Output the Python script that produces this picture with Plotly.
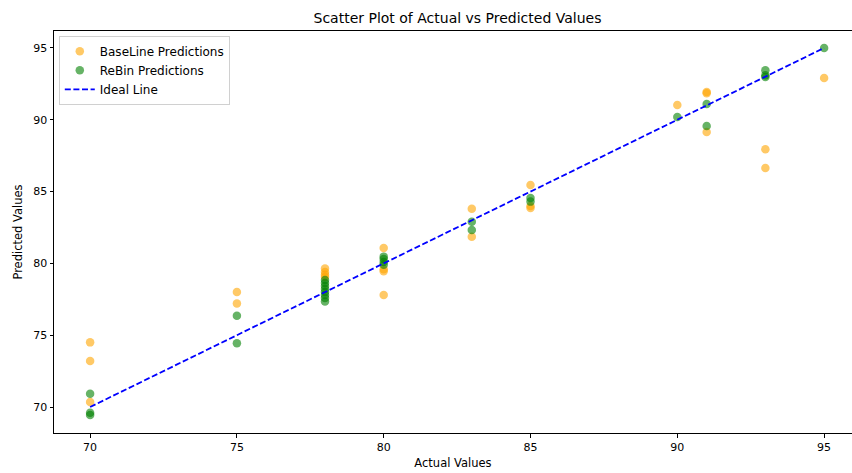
import plotly.graph_objects as go

# Actual target values and the two models' predictions
baseline_actual = [70, 70, 70, 75, 75, 78, 78, 78, 78, 80, 80, 80, 80, 83, 83,
                   85, 85, 85, 90, 91, 91, 91, 93, 93, 95]
baseline_pred = [74.5, 73.2, 70.35, 78.0, 77.2, 79.65, 79.4, 79.2, 79.05,
                 81.07, 79.6, 79.45, 77.8, 83.8, 81.85,
                 85.45, 84.0, 83.86, 91.03, 91.94, 91.85, 89.15, 87.95, 86.64, 92.9]

rebin_actual = [70, 70, 70, 75, 75, 78, 78, 78, 78, 78, 78, 78, 78,
                80, 80, 80, 80, 83, 83, 85, 85, 90, 91, 91, 93, 93, 93, 95]
rebin_pred = [70.93, 69.6, 69.44, 76.36, 74.44,
              78.84, 78.63, 78.43, 78.22, 78.0, 77.8, 77.59, 77.35,
              80.47, 80.3, 80.1, 79.9, 82.9, 82.33, 84.55, 84.3,
              90.2, 91.1, 89.57, 93.45, 93.1, 92.98, 95.0]

ideal_line = [70, 95]

fig = go.Figure()

fig.add_trace(go.Scatter(
    x=baseline_actual, y=baseline_pred, mode="markers",
    name="BaseLine Predictions",
    marker=dict(color="rgba(255,165,0,0.6)", size=8.5, line=dict(width=0)),
))
fig.add_trace(go.Scatter(
    x=rebin_actual, y=rebin_pred, mode="markers",
    name="ReBin Predictions",
    marker=dict(color="rgba(0,128,0,0.6)", size=8.5, line=dict(width=0)),
))
fig.add_trace(go.Scatter(
    x=ideal_line, y=ideal_line, mode="lines",
    name="Ideal Line",
    line=dict(color="#0000ff", width=1.8, dash="6px,2.6px"),
))

font_family = "DejaVu Sans"

fig.update_layout(
    width=852, height=473,
    margin=dict(l=54, r=0, t=31, b=40),
    paper_bgcolor="white", plot_bgcolor="white",
    font=dict(family=font_family, color="black", size=11),
    title=dict(text="Scatter Plot of Actual vs Predicted Values",
               x=(54 + 861) / 2 / 852, xanchor="center",
               y=1 - 18 / 473, yanchor="middle",
               font=dict(size=14, family=font_family)),
    showlegend=True,
    legend=dict(x=0.006, y=0.988, xanchor="left", yanchor="top",
                bgcolor="rgba(255,255,255,0.8)", bordercolor="#d0d0d0",
                borderwidth=1, font=dict(size=12), tracegroupgap=0,
                itemwidth=30),
)

fig.update_xaxes(
    range=[68.77, 95.95], tickvals=[70, 75, 80, 85, 90, 95],
    showgrid=False, zeroline=False,
    showline=True, linecolor="black", linewidth=1, mirror=True,
    ticks="outside", ticklen=3.5, tickcolor="black",
    title=dict(text="Actual Values", font=dict(size=11.5), standoff=6),
)
fig.update_yaxes(
    range=[68.19, 96.18], tickvals=[70, 75, 80, 85, 90, 95],
    showgrid=False, zeroline=False,
    showline=True, linecolor="black", linewidth=1,
    ticks="outside", ticklen=3.5, tickcolor="black",
    title=dict(text="Predicted Values", font=dict(size=11.5), standoff=8),
)

fig.write_html("out.html")
